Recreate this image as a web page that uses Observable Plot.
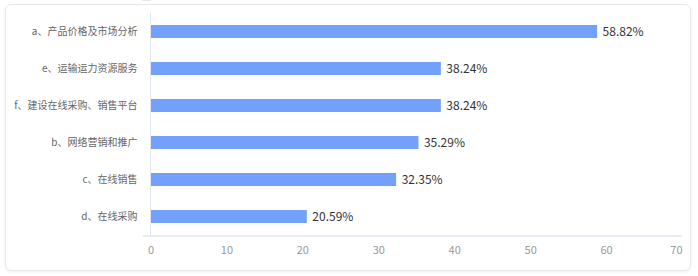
<!DOCTYPE html>
<html><head><meta charset="utf-8">
<script src="https://cdn.jsdelivr.net/npm/d3@7"></script>
<script src="https://cdn.jsdelivr.net/npm/@observablehq/plot@0.6"></script>
<style>
html,body{margin:0;padding:0;background:#fff;}
#wrap{position:relative;width:698px;height:276px;overflow:hidden;}
#card{position:absolute;left:5px;top:4px;width:684px;height:265px;border:1px solid #e8e8e8;border-radius:6px;box-shadow:0 1px 3px rgba(0,0,0,0.06);background:#fff;}
#chart{position:absolute;left:0;top:0;}
</style>
</head><body>
<div id="wrap"><div id="card"></div><div id="chart"></div></div>
<script>
const categories = ["a、产品价格及市场分析","e、运输运力资源服务","f、建设在线采购、销售平台","b、网络营销和推广","c、在线销售","d、在线采购"];
const values = [58.82, 38.24, 38.24, 35.29, 32.35, 20.59];
const xTicks = [0,10,20,30,40,50,60];
const xLast = [70];

const data = categories.map((c,i)=>({cat:c, v:values[i]}));
const font = "'Noto Sans CJK SC','Noto Sans',sans-serif";
const axisColor = "#e0e6f1";

const boundaries = (index, scales, values, dims) => {
  const y = scales.y;
  const step = y(categories[1]) - y(categories[0]);
  const off = (step - y.bandwidth) / 2;
  const g = d3.create("svg:g").attr("stroke", axisColor).attr("fill","none");
  const x0 = dims.marginLeft;
  const top = dims.marginTop;
  const bottom = dims.height - dims.marginBottom;
  g.append("line").attr("x1", x0).attr("x2", x0).attr("y1", top).attr("y2", bottom);
  categories.forEach(c => {
    const yy = y(c) - off;
    g.append("line").attr("x1", x0-8).attr("x2", x0).attr("y1", yy).attr("y2", yy);
  });
  g.append("line").attr("x1", x0-8).attr("x2", dims.width - dims.marginRight)
    .attr("y1", bottom).attr("y2", bottom).attr("stroke-width", 1.6);
  return g.node();
};

const plot = Plot.plot({
  width: 698, height: 276,
  marginLeft: 150.5, marginRight: 16, marginTop: 13, marginBottom: 40,
  style: {fontFamily: font, background: "transparent", overflow: "visible"},
  x: {domain: [0,70]},
  y: {domain: categories, paddingInner: 0.64, paddingOuter: 0.32},
  marks: [
    Plot.barX(data, {x: "v", y: "cat", fill: "#73a0fa"}),
    boundaries,
    Plot.text(data, {x: "v", y: "cat", text: d => d.v.toFixed(2) + "%", textAnchor: "start", dx: 5, fill: "#333", fontSize: 12}),
    Plot.axisY({tickSize: 0, tickPadding: 13.5, fontSize: 10, color: "#666", label: null}),
    Plot.axisX({ticks: xTicks, tickSize: 0, tickPadding: 10, fontSize: 11, color: "#999", label: null}),
    Plot.axisX({ticks: xLast, tickSize: 0, tickPadding: 10, fontSize: 11, color: "#999", label: null, textAnchor: "end"})
  ]
});
document.getElementById("chart").appendChild(plot);
</script>
</body></html>
